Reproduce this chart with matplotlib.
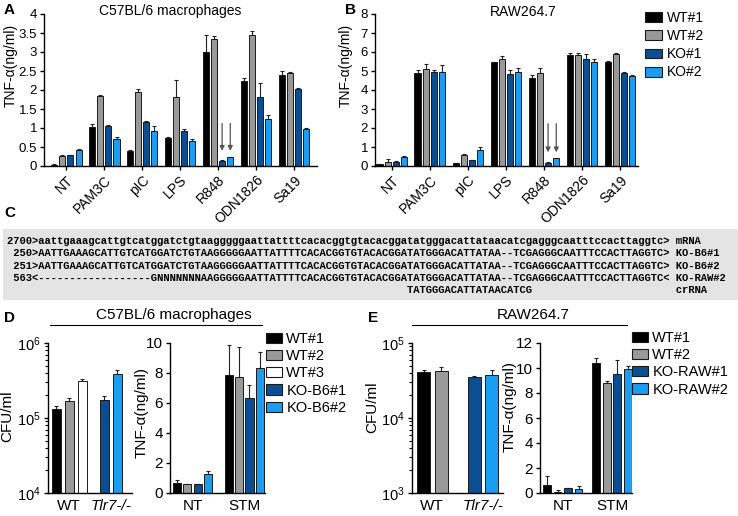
import numpy as np
import matplotlib
matplotlib.use("Agg")
import matplotlib.pyplot as plt
from matplotlib.patches import Patch, Rectangle
from matplotlib.lines import Line2D

plt.rcParams['font.family'] = ['Liberation Sans', 'DejaVu Sans']
plt.rcParams['mathtext.default'] = 'regular'

W, H = 738, 516

# ------------------------
# data: panels A / B
# ------------------------
stimuli = ["NT", "PAM3C", "pIC", "LPS", "R848", "ODN1826", "Sa19"]
ab_labels = ["WT#1", "WT#2", "KO#1", "KO#2"]

a_wt1 = [0.03, 1.03, 0.40, 0.75, 3.00, 2.25, 2.40]
a_wt2 = [0.26, 1.84, 1.96, 1.82, 3.33, 3.46, 2.44]
a_ko1 = [0.28, 1.05, 1.17, 0.92, 0.14, 1.82, 2.02]
a_ko2 = [0.41, 0.71, 0.91, 0.66, 0.23, 1.24, 0.98]
a_wt1_err = [0.02, 0.08, 0.02, 0.01, 0.44, 0.06, 0.10]
a_wt2_err = [0.02, 0.02, 0.06, 0.44, 0.10, 0.10, 0.03]
a_ko1_err = [0.01, 0.02, 0.02, 0.06, 0.01, 0.37, 0.02]
a_ko2_err = [0.03, 0.05, 0.14, 0.05, 0.02, 0.10, 0.02]

b_wt1 = [0.09, 4.90, 0.14, 5.47, 4.64, 5.82, 5.50]
b_wt2 = [0.23, 5.13, 0.58, 5.62, 4.89, 5.83, 5.89]
b_ko1 = [0.23, 4.94, 0.30, 4.85, 0.18, 5.62, 4.92]
b_ko2 = [0.49, 4.94, 0.84, 4.97, 0.40, 5.45, 4.74]
b_wt1_err = [0.02, 0.15, 0.02, 0.02, 0.15, 0.12, 0.05]
b_wt2_err = [0.14, 0.26, 0.03, 0.15, 0.28, 0.10, 0.07]
b_ko1_err = [0.03, 0.10, 0.03, 0.20, 0.03, 0.25, 0.05]
b_ko2_err = [0.03, 0.40, 0.15, 0.20, 0.03, 0.20, 0.07]

# ------------------------
# data: panel C (sequences)
# ------------------------
mrna = "aattgaaagcattgtcatggatctgtaagggggaattattttcacacggtgtacacggatatgggacattataacatcgagggcaatttccacttaggtc"
ko_seq = "AATTGAAAGCATTGTCATGGATCTGTAAGGGGGAATTATTTTCACACGGTGTACACGGATATGGGACATTATAA--TCGAGGGCAATTTCCACTTAGGTC"
raw2_head = "------------------GNNNNNNNAA"
crrna = "TATGGGACATTATAACATCG"

# ------------------------
# data: panels D / E
# ------------------------
d_cfu_labels = ["WT#1", "WT#2", "WT#3", "KO-B6#1", "KO-B6#2"]
d_cfu = [1.32e5, 1.67e5, 3.08e5, 1.76e5, 3.86e5]
d_cfu_top = [1.46e5, 1.85e5, 3.35e5, 1.94e5, 4.32e5]
d_tnf_labels = ["WT#1", "WT#2", "KO-B6#1", "KO-B6#2"]
d_tnf_nt = [0.67, 0.60, 0.58, 1.29]
d_tnf_nt_err = [0.22, 0.03, 0.04, 0.20]
d_tnf_stm = [7.84, 7.71, 6.36, 8.31]
d_tnf_stm_err = [2.04, 2.00, 0.82, 1.09]

e_labels = ["WT#1", "WT#2", "KO-RAW#1", "KO-RAW#2"]
e_cfu = [4.06e4, 4.19e4, 3.52e4, 3.79e4]
e_cfu_top = [4.40e4, 4.75e4, 3.66e4, 4.33e4]
e_tnf_nt = [0.67, 0.10, 0.40, 0.33]
e_tnf_nt_err = [0.72, 0.16, 0.03, 0.22]
e_tnf_stm = [10.4, 8.77, 9.52, 9.89]
e_tnf_stm_err = [0.40, 0.21, 1.15, 0.30]

C_WT1, C_WT2, C_WT3 = "#000000", "#999999", "#ffffff"
C_KO1, C_KO2 = "#0b4f92", "#1b9df2"
EDGE = "#1a1a1a"

fig = plt.figure(figsize=(W / 100, H / 100), dpi=100)


def px_axes(l, r, t, b):
    return fig.add_axes([l / W, 1 - b / H, (r - l) / W, (b - t) / H])


def style(ax, fs):
    for s in ["top", "right"]:
        ax.spines[s].set_visible(False)
    for s in ["left", "bottom"]:
        ax.spines[s].set_linewidth(1.0)
    ax.tick_params(direction="out", length=3, width=1, labelsize=fs, pad=2)


def bars(ax, x, v, err_top, color, width):
    ax.bar(x, v, width, color=color, edgecolor=EDGE, lw=0.7, zorder=2)
    ax.errorbar(x, v, yerr=[np.zeros(len(v)), err_top], fmt="none", ecolor="#222222",
                elinewidth=0.8, capsize=1.5, capthick=0.8, zorder=1)


# ------------------------
# A and B
# ------------------------
pitch, bw = 0.215, 0.16
ab_colors = [C_WT1, C_WT2, C_KO1, C_KO2]


def panel_ab(ax, series, errs, ymax, step, arrow_from, arrow_to, ylab_x, ylab_y):
    x = np.arange(len(stimuli))
    for i, (v, e) in enumerate(zip(series, errs)):
        bars(ax, x + (i - 1.5) * pitch, v, e, ab_colors[i], bw)
    for i in (2, 3):
        xa = 4 + (i - 1.5) * pitch
        ax.annotate("", xy=(xa, arrow_to), xytext=(xa, arrow_from),
                    arrowprops=dict(arrowstyle="-|>", color="#555555", lw=0.9,
                                    mutation_scale=7, shrinkA=0, shrinkB=0))
    style(ax, 9.5)
    ax.set_ylim(0, ymax)
    ticks = np.arange(0, ymax + step / 2, step)
    ax.set_yticks(ticks)
    ax.set_yticklabels(["%g" % t for t in ticks])
    ax.set_xticks(x)
    ax.set_xticklabels(stimuli, rotation=45, ha="right", rotation_mode="anchor", fontsize=10)
    ax.set_ylabel("TNF-α(ng/ml)", fontsize=10)
    ax.yaxis.set_label_coords(ylab_x, ylab_y)


axA = px_axes(44, 317, 14, 166)
panel_ab(axA, [a_wt1, a_wt2, a_ko1, a_ko2], [a_wt1_err, a_wt2_err, a_ko1_err, a_ko2_err],
         4, 0.5, 1.12, 0.40, -0.097, 0.66)
axA.set_xlim(-0.59, 6.61)

axB = px_axes(375, 638, 14, 166)
panel_ab(axB, [b_wt1, b_wt2, b_ko1, b_ko2], [b_wt1_err, b_wt2_err, b_ko1_err, b_ko2_err],
         8, 1, 2.23, 0.72, -0.085, 0.66)
axB.set_xlim(-0.44, 6.47)

fig.text(170 / W, 1 - 11 / H, "C57BL/6 macrophages", ha="center", va="center", fontsize=10)
fig.text(523 / W, 1 - 12 / H, "RAW264.7", ha="center", va="center", fontsize=10)

fig.legend([Patch(facecolor=c, edgecolor=EDGE, lw=0.8) for c in ab_colors], ab_labels,
           loc="upper left", bbox_to_anchor=(645 / W, 1 - 11 / H), frameon=False,
           fontsize=10, handlelength=1.2, handleheight=0.72, labelspacing=0.3,
           handletextpad=0.4, borderaxespad=0, borderpad=0)

# ------------------------
# C
# ------------------------
fig.add_artist(Rectangle((3 / W, 1 - 300 / H), 735 / W, 71 / H, transform=fig.transFigure,
                         facecolor="#e4e4e4", edgecolor="none"))
col = 5 + mrna.upper().find(crrna)
seq_lines = [
    "2700>" + mrna + "> mRNA",
    " 250>" + ko_seq + "> KO-B6#1",
    " 251>" + ko_seq + "> KO-B6#2",
    " 563<" + raw2_head + ko_seq[len(raw2_head):] + "< KO-RAW#2",
    " " * col + crrna + " " * (5 + len(mrna) + 2 - col - len(crrna)) + "crRNA",
]
for k, line in enumerate(seq_lines):
    fig.text(7 / W, 1 - (241 + 12.3 * k) / H, line, family="Liberation Mono",
             weight="bold", fontsize=7.55, ha="left", va="center")

# ------------------------
# D
# ------------------------
axD1 = px_axes(48, 132, 343, 493)
axD1.set_yscale("log")
bars(axD1, [0, 1, 2, 3.7, 4.7], d_cfu, np.array(d_cfu_top) - np.array(d_cfu),
     [C_WT1, C_WT2, C_WT3, C_KO1, C_KO2], 0.7)
style(axD1, 11)
axD1.tick_params(axis="y", labelsize=10.5)
axD1.tick_params(axis="y", which="minor", length=2, width=0.8)
axD1.tick_params(axis="x", length=0, pad=4)
axD1.set_ylim(1e4, 1e6)
axD1.set_xlim(-0.63, 5.83)
axD1.set_xticks([1, 4.2])
axD1.set_xticklabels(["WT", "Tlr7-/-"])
axD1.get_xticklabels()[1].set_fontstyle("italic")
axD1.set_ylabel("CFU/ml", fontsize=11)
axD1.yaxis.set_label_coords(-0.40, 0.51)

ko_b6 = [C_WT1, C_WT2, C_KO1, C_KO2]
axD2 = px_axes(170, 265, 343, 493)
bars(axD2, [0, 1, 2, 3], d_tnf_nt, d_tnf_nt_err, ko_b6, 0.78)
bars(axD2, [5, 6, 7, 8], d_tnf_stm, d_tnf_stm_err, ko_b6, 0.78)
style(axD2, 11)
axD2.tick_params(axis="x", length=0, pad=4)
axD2.set_ylim(0, 10)
axD2.set_yticks(range(0, 11, 2))
axD2.set_xlim(-0.68, 8.5)
axD2.set_xticks([1.5, 6.5])
axD2.set_xticklabels(["NT", "STM"])
axD2.set_ylabel("TNF-α(ng/ml)", fontsize=11)
axD2.yaxis.set_label_coords(-0.23, 0.54)

fig.text(174 / W, 1 - 315 / H, "C57BL/6 macrophages", ha="center", va="center", fontsize=11)
fig.add_artist(Line2D([50 / W, 262 / W], [1 - 325 / H] * 2, color="black", lw=0.8))
fig.legend([Patch(facecolor=c, edgecolor=EDGE, lw=0.8) for c in [C_WT1, C_WT2, C_WT3, C_KO1, C_KO2]],
           d_cfu_labels, loc="upper left", bbox_to_anchor=(266 / W, 1 - 332 / H), frameon=False,
           fontsize=10.5, handlelength=1.1, handleheight=0.7, labelspacing=0.22,
           handletextpad=0.3, borderaxespad=0, borderpad=0)

# ------------------------
# E
# ------------------------
axE1 = px_axes(412, 503, 343, 493)
axE1.set_yscale("log")
bars(axE1, [0, 1, 2.9, 3.9], e_cfu, np.array(e_cfu_top) - np.array(e_cfu), ko_b6, 0.74)
style(axE1, 11)
axE1.tick_params(axis="y", labelsize=10.5)
axE1.tick_params(axis="y", which="minor", length=2, width=0.8)
axE1.tick_params(axis="x", length=0, pad=4)
axE1.set_ylim(1e3, 1e5)
axE1.set_xlim(-0.66, 4.54)
axE1.set_xticks([0.5, 3.4])
axE1.set_xticklabels(["WT", "Tlr7-/-"])
axE1.get_xticklabels()[1].set_fontstyle("italic")
axE1.set_ylabel("CFU/ml", fontsize=11)
axE1.yaxis.set_label_coords(-0.36, 0.57)

axE2 = px_axes(540, 632, 343, 493)
bars(axE2, [0, 1, 2, 3], e_tnf_nt, e_tnf_nt_err, ko_b6, 0.75)
bars(axE2, [4.7, 5.7, 6.7, 7.7], e_tnf_stm, e_tnf_stm_err, ko_b6, 0.75)
style(axE2, 11)
axE2.tick_params(axis="x", length=0, pad=4)
axE2.set_ylim(0, 12)
axE2.set_yticks(range(0, 13, 2))
axE2.set_xlim(-0.67, 8.09)
axE2.set_xticks([1.5, 6.2])
axE2.set_xticklabels(["NT", "STM"])
axE2.set_ylabel("TNF-α(ng/ml)", fontsize=11)
axE2.yaxis.set_label_coords(-0.25, 0.58)

fig.text(533 / W, 1 - 315 / H, "RAW264.7", ha="center", va="center", fontsize=11)
fig.add_artist(Line2D([412 / W, 627 / W], [1 - 325 / H] * 2, color="black", lw=0.8))
fig.legend([Patch(facecolor=c, edgecolor=EDGE, lw=0.8) for c in ko_b6],
           e_labels, loc="upper left", bbox_to_anchor=(632 / W, 1 - 331 / H), frameon=False,
           fontsize=10.5, handlelength=1.1, handleheight=0.7, labelspacing=0.22,
           handletextpad=0.3, borderaxespad=0, borderpad=0)

# panel letters
for letter, (px, py) in zip("ABCDE", [(4, 10), (345, 10), (4, 213), (4, 318), (368, 318)]):
    fig.text(px / W, 1 - py / H, letter, fontsize=11, weight="bold", ha="left", va="center")

fig.savefig("out.png", dpi=100)
